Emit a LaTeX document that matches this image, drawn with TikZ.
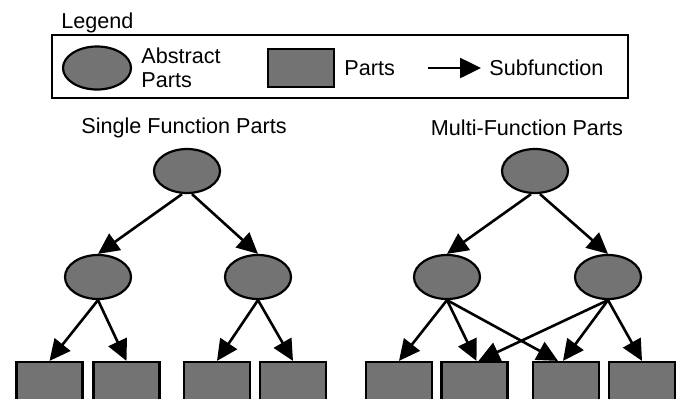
\documentclass[tikz,border=0pt]{standalone}
\usepackage{fontspec}
\setmainfont{Liberation Sans}
\usetikzlibrary{shapes.geometric, arrows.meta}

\begin{document}
\begin{tikzpicture}[x=0.5pt,y=-0.5pt,
  font=\fontsize{10.8}{12}\selectfont,
  abst/.style={draw,shape=ellipse,fill=black!55,line width=1.1pt,inner sep=0pt,minimum width=33pt,minimum height=22pt},
  part/.style={draw,shape=rectangle,fill=black!55,line width=1.1pt,inner sep=0pt,minimum width=33pt,minimum height=19pt},
  sub/.style={line width=1.3pt,-{Triangle[length=10.5pt,width=10pt]}}]
  \useasboundingbox (0,0) rectangle (680,398);
  \clip (0,0) rectangle (680,398);
  % legend
  \node[anchor=base west,inner sep=0pt] (lg) at (61,28) {Legend};
  \draw[line width=1pt] (52,35) rectangle (628,98);
  \path (97,68) node[abst,minimum width=34pt,minimum height=21.5pt] (la) {}
  (141,68) node[anchor=west,align=left,inner sep=0pt] (lat) {Abstract\\Parts}
  (301,68) node[part] (lp) {}
  (344,68) node[anchor=west,inner sep=0pt] (lpt) {Parts}
  (428,68) coordinate (lsa) (481,68) coordinate (lsb)
  (489,68) node[anchor=west,inner sep=0pt] (lst) {Subfunction};
  \draw[sub] (lsa) -- (lsb);
  % single function parts
  \node (st) at (184,128) {Single Function Parts};
  \path (187,171) node[abst] (s0) {} (98,277) node[abst] (s1) {} (258,277) node[abst] (s2) {}
  (49.5,381) node[part] (s3) {} (126.5,381) node[part] (s4) {}
  (217,381) node[part] (s5) {} (293,381) node[part] (s6) {};
  \draw[sub] ([xshift=-2.5pt]s0.south) -- (s1.north);
  \draw[sub] ([xshift=2.5pt]s0.south) -- (s2.north);
  \draw[sub] (s1.south) -- (s3.north);
  \draw[sub] (s1.south) -- (s4.north);
  \draw[sub] (s2.south) -- (s5.north);
  \draw[sub] (s2.south) -- (s6.north);
  % multi-function parts
  \node (mt) at (527,128) {Multi-Function Parts};
  \path (535,171) node[abst] (m0) {} (447,277) node[abst] (m1) {} (608,277) node[abst] (m2) {}
  (399,381) node[part] (m3) {} (474.5,381) node[part] (m4) {}
  (566,381) node[part] (m5) {} (642,381) node[part] (m6) {};
  \draw[sub] ([xshift=-2pt]m0.south) -- (m1.north);
  \draw[sub] ([xshift=2.5pt]m0.south) -- (m2.north);
  \draw[sub] (m1.south) -- (m3.north);
  \draw[sub] (m1.south) -- ([xshift=1pt]m4.north);
  \draw[sub] (m1.south) -- ([xshift=-4pt]m5.north);
  \draw[sub] (m2.south) -- ([xshift=2pt]m4.north);
  \draw[sub] (m2.south) -- ([xshift=-1.5pt]m5.north);
  \draw[sub] (m2.south) -- (m6.north);
\end{tikzpicture}
\end{document}
